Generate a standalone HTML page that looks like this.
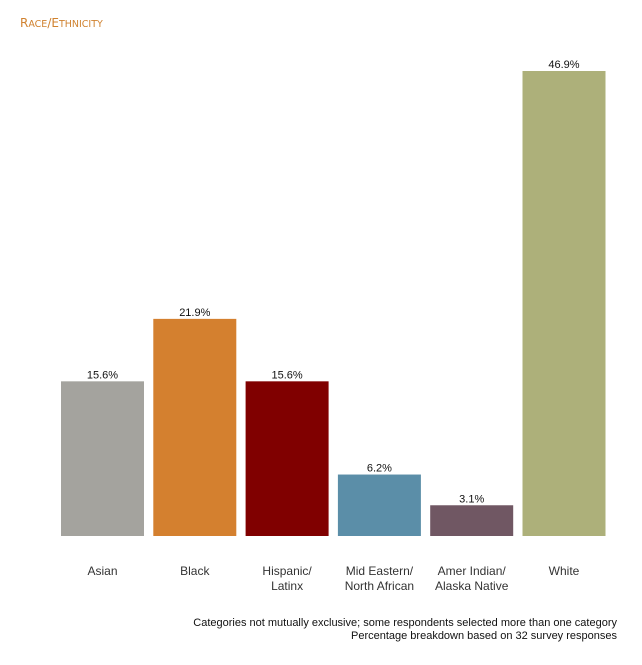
<!DOCTYPE html>
<html><head><meta charset="utf-8"><style>
body{margin:0;background:#fff;width:642px;height:660px;overflow:hidden;font-family:"Liberation Sans",sans-serif}
</style></head><body>
<svg width="642" height="660">
<text x="20" y="27" fill="#d0822f" font-size="12" font-family="'DejaVu Sans',sans-serif"><tspan font-size="12">R</tspan><tspan font-size="9.5">ACE</tspan><tspan font-size="12">/E</tspan><tspan font-size="9.5">THNICITY</tspan></text>
<g id="bars"></g>
<text x="617" y="626" text-anchor="end" font-size="11" fill="#111">Categories not mutually exclusive; some respondents selected more than one category</text>
<text x="617" y="639" text-anchor="end" font-size="11" fill="#111">Percentage breakdown based on 32 survey responses</text>
</svg>
<script>
const categories=[["Asian"],["Black"],["Hispanic/","Latinx"],["Mid Eastern/","North African"],["Amer Indian/","Alaska Native"],["White"]];
const values=[15.6,21.9,15.6,6.2,3.1,46.9];
const valueLabels=["15.6%","21.9%","15.6%","6.2%","3.1%","46.9%"];
const colors=["#a4a39e","#d4802f","#800000","#5b8ea8","#705763","#adb07a"];
const baseY=536, pxPer=465/46.9, x0=61, step=92.3, bw=83;
const yScale=v=>baseY-v*pxPer;
const xScale=i=>x0+i*step;
const ns="http://www.w3.org/2000/svg";
const g=document.getElementById('bars');
values.forEach((v,i)=>{
  const r=document.createElementNS(ns,'rect');
  r.setAttribute('x',xScale(i));r.setAttribute('y',yScale(v));
  r.setAttribute('width',bw);r.setAttribute('height',baseY-yScale(v));
  r.setAttribute('fill',colors[i]);
  
  
  g.appendChild(r);
  const t=document.createElementNS(ns,'text');
  t.setAttribute('x',xScale(i)+bw/2);t.setAttribute('y',yScale(v)-3);
  t.setAttribute('text-anchor','middle');t.setAttribute('font-size','11');t.setAttribute('fill','#111');
  t.textContent=valueLabels[i];
  
  
  g.appendChild(t);
  categories[i].forEach((line,j)=>{
    const c=document.createElementNS(ns,'text');
    c.setAttribute('x',xScale(i)+bw/2);c.setAttribute('y',575+j*15);
    c.setAttribute('text-anchor','middle');c.setAttribute('font-size','12');c.setAttribute('fill','#333');
    c.textContent=line;
    
    
    g.appendChild(c);
  });
});
</script>
</body></html>
